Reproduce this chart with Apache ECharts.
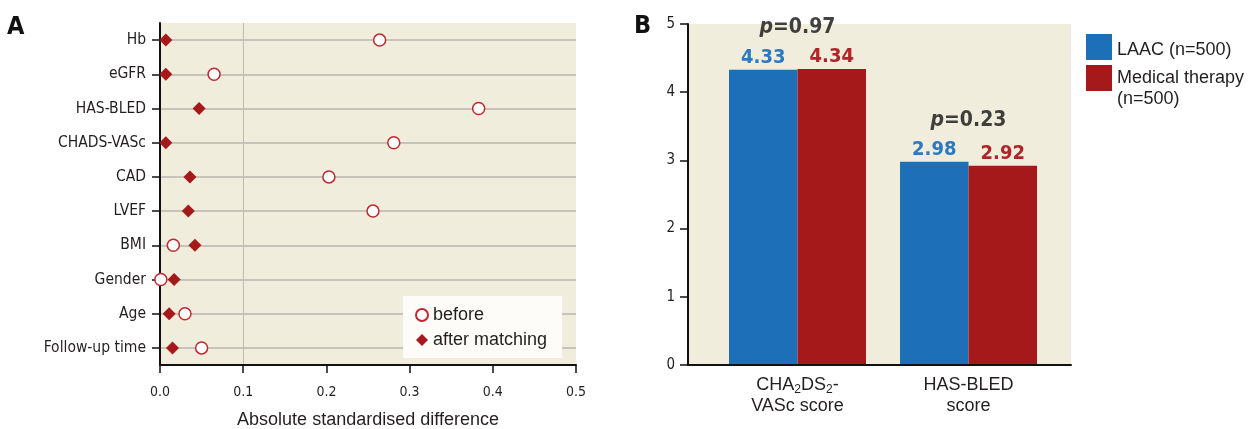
<!DOCTYPE html>
<html>
<head>
<meta charset="utf-8">
<script src="https://cdn.jsdelivr.net/npm/echarts@6/dist/echarts.min.js"></script>
<style>
html,body{margin:0;padding:0;background:#fff;}
#chart{width:1250px;height:429px;}
</style>
</head>
<body>
<div id="chart"></div>
<script>
// ---- Panel A data ----
const categoriesA = ['Hb','eGFR','HAS-BLED','CHADS-VASc','CAD','LVEF','BMI','Gender','Age','Follow-up time'];
const beforeValues = [0.264, 0.065, 0.383, 0.281, 0.203, 0.256, 0.016, 0.001, 0.030, 0.050];
const afterValues  = [0.007, 0.007, 0.047, 0.007, 0.036, 0.034, 0.042, 0.017, 0.011, 0.015];
const xTicksA = [0.0, 0.1, 0.2, 0.3, 0.4, 0.5];
const thresholdA = 0.1;

// ---- Panel B data ----
const categoriesB = ['CHA2DS2-VASc score', 'HAS-BLED score'];
const laacValues = [4.33, 2.98];
const medicalValues = [4.34, 2.92];
const pValues = ['0.97', '0.23'];
const yTicksB = [0, 1, 2, 3, 4, 5];

const NARROW = "'Liberation Sans Narrow','DejaVu Sans Condensed',sans-serif";
const REG = "'Liberation Sans',Arial,sans-serif";
const BEIGE = '#f1eddc';
const RED = '#a5191a';
const CIRCLE_RED = '#c0282d';
const BLUE = '#1d70b8';
const TXT = '#231f20';

const chart = echarts.init(document.getElementById('chart'), null, {renderer:'canvas'});

const option = {
  animation: false,
  backgroundColor: '#fff',
  title: [
    {text:'A', left: 7, top: 15, padding: 0, textStyle:{fontFamily: NARROW, fontWeight:'bold', fontSize: 25, color:'#111'}},
    {text:'B', left: 634, top: 14, padding: 0, textStyle:{fontFamily: NARROW, fontWeight:'bold', fontSize: 25, color:'#111'}}
  ],
  grid: [
    {left: 160, top: 23, width: 416, height: 342, show: true, backgroundColor: BEIGE, borderWidth: 0, containLabel: false, outerBoundsMode: 'none'},
    {left: 688, top: 24, width: 383, height: 341, show: true, backgroundColor: BEIGE, borderWidth: 0, containLabel: false, outerBoundsMode: 'none'},
    {left: 712, top: 24, width: 342, height: 341, show: false, containLabel: false, outerBoundsMode: 'none'}
  ],
  legend: [
    {
      data: ['before', 'after matching'],
      orient: 'vertical', left: 403, top: 296,
      backgroundColor: '#fdfcf8', borderWidth: 0,
      padding: [10, 15, 9, 12],
      itemWidth: 12, itemHeight: 12, itemGap: 7,
      textStyle: {fontFamily: REG, fontSize: 18, color: TXT}
    },
    {
      data: ['LAAC (n=500)'],
      orient: 'vertical', left: 1086, top: 34, padding: 0,
      itemWidth: 26, itemHeight: 26, icon: 'rect',
      formatter: n => '{a|' + n + '}',
      textStyle: {fontFamily: REG, fontSize: 18, color: TXT,
        rich: {a: {fontFamily: REG, fontSize: 18, color: TXT, lineHeight: 21, padding: [7, 0, 0, 0]}}}
    },
    {
      data: ['Medical therapy (n=500)'],
      orient: 'vertical', left: 1086, top: 46.5, padding: 0,
      itemWidth: 26, itemHeight: 26, icon: 'rect',
      formatter: () => ' \nMedical therapy\n(n=500)',
      textStyle: {fontFamily: REG, fontSize: 18, color: TXT, lineHeight: 21}
    }
  ],
  xAxis: [
    {
      gridIndex: 0, type: 'value', min: xTicksA[0], max: xTicksA[xTicksA.length-1], interval: 0.1, z: 2,
      name: 'Absolute standardised difference', nameLocation: 'middle', nameGap: 46,
      nameTextStyle: {fontFamily: REG, fontSize: 18, color: TXT},
      axisLine: {show: true, lineStyle: {color: '#111', width: 2}},
      axisTick: {show: true, length: 8, lineStyle: {color: '#111', width: 1.5}},
      axisLabel: {margin: 20, fontFamily: NARROW, fontSize: 14, color: TXT, formatter: v => v.toFixed(1)},
      splitLine: {show: false}
    },
    {
      gridIndex: 1, type: 'category', data: [''], z: 3,
      axisLine: {show: true, lineStyle: {color: '#111', width: 2}},
      axisTick: {show: false}, axisLabel: {show: false}, splitLine: {show: false}
    },
    {
      gridIndex: 2, type: 'category', data: categoriesB,
      axisLine: {show: false}, axisTick: {show: false},
      axisLabel: {
        margin: 10, interval: 0,
        formatter: v => v.startsWith('CHA2DS2')
          ? '{n|CHA}{s|2}{n|DS}{s|2}{n|-}\n{n|VASc score}'
          : '{n|HAS-BLED}\n{n|score}',
        rich: {
          n: {fontFamily: REG, fontSize: 18, color: TXT, lineHeight: 21},
          s: {fontFamily: REG, fontSize: 12, color: TXT, lineHeight: 8, verticalAlign: 'bottom'}
        }
      }
    }
  ],
  yAxis: [
    {
      gridIndex: 0, type: 'category', data: categoriesA, inverse: true, z: 2,
      axisLine: {show: true, lineStyle: {color: '#111', width: 2}},
      axisTick: {show: true, alignWithLabel: true, length: 8, lineStyle: {color: '#111', width: 1.5}},
      axisLabel: {margin: 14, fontFamily: NARROW, fontSize: 15.5, color: TXT},
      splitLine: {show: false}
    },
    {
      gridIndex: 1, type: 'value', min: yTicksB[0], max: yTicksB[yTicksB.length-1], interval: 1, z: 3,
      axisLine: {show: true, lineStyle: {color: '#111', width: 2}},
      axisTick: {show: true, length: 8, lineStyle: {color: '#111', width: 1.5}},
      axisLabel: {margin: 13, fontFamily: NARROW, fontSize: 15, color: TXT},
      splitLine: {show: false}
    },
    {
      gridIndex: 2, type: 'value', min: yTicksB[0], max: yTicksB[yTicksB.length-1], interval: 1, show: false
    }
  ],
  series: [
    {
      name: 'guides', type: 'scatter', xAxisIndex: 0, yAxisIndex: 0, data: [], silent: true,
      markLine: {
        silent: true, symbol: 'none', z: 1, animation: false,
        label: {show: false},
        lineStyle: {color: '#b7b5ae', width: 1.5, type: 'solid'},
        data: categoriesA.map(c => ({yAxis: c})).concat([{xAxis: thresholdA, lineStyle: {color: '#bdbbb4', width: 1}}])
      }
    },
    {
      name: 'before', type: 'scatter', xAxisIndex: 0, yAxisIndex: 0, z: 4,
      symbol: 'circle', symbolSize: 12,
      itemStyle: {color: '#fff', borderColor: CIRCLE_RED, borderWidth: 1.5, opacity: 1},
      data: beforeValues.map((v, i) => [v, categoriesA[i]])
    },
    {
      name: 'after matching', type: 'scatter', xAxisIndex: 0, yAxisIndex: 0, z: 5,
      symbol: 'diamond', symbolSize: 13,
      itemStyle: {color: RED, opacity: 1},
      data: afterValues.map((v, i) => [v, categoriesA[i]])
    },
    {
      name: 'LAAC (n=500)', type: 'bar', xAxisIndex: 2, yAxisIndex: 2, z: 2,
      barWidth: 68.5, barGap: '0%',
      itemStyle: {color: BLUE},
      label: {show: true, position: 'top', distance: 2, fontFamily: NARROW, fontWeight: 'bold', fontSize: 20, color: '#2a79c2', formatter: p => p.value.toFixed(2)},
      data: laacValues
    },
    {
      name: 'Medical therapy (n=500)', type: 'bar', xAxisIndex: 2, yAxisIndex: 2, z: 2,
      barWidth: 68.5, barGap: '0%',
      itemStyle: {color: RED},
      label: {show: true, position: 'top', distance: 2, fontFamily: NARROW, fontWeight: 'bold', fontSize: 20, color: '#b0252a', formatter: p => p.value.toFixed(2)},
      data: medicalValues
    },
    {
      name: 'p', type: 'scatter', xAxisIndex: 2, yAxisIndex: 2, symbolSize: 0, silent: true, z: 6,
      label: {
        show: true, position: 'top', distance: 31,
        formatter: p => '{i|p}{b|=' + pValues[p.dataIndex] + '}',
        rich: {
          i: {fontFamily: NARROW, fontWeight: 'bold', fontStyle: 'italic', fontSize: 21, color: '#111'},
          b: {fontFamily: NARROW, fontWeight: 'bold', fontSize: 21, color: '#111'}
        }
      },
      data: laacValues.map((v, i) => Math.max(v, medicalValues[i]))
    }
  ]
};
chart.setOption(option);
</script>
</body>
</html>
